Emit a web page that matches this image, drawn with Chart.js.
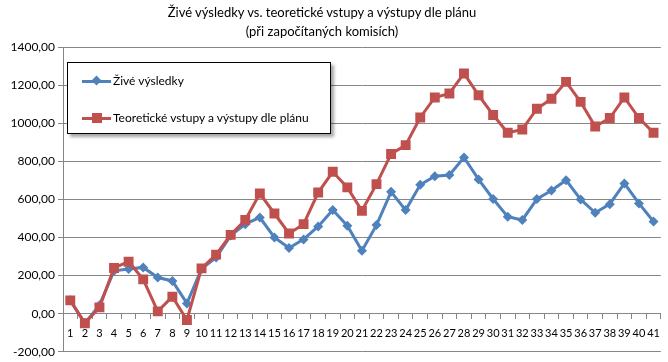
<!DOCTYPE html>
<html lang="cs">
<head>
    <meta charset="UTF-8">
    <title>Živé výsledky vs. teoretické vstupy</title>
    <script src="https://cdn.jsdelivr.net/npm/chart.js"></script>
    <style>
        html, body { margin: 0; padding: 0; background: #fff; }
        #wrap { position: relative; width: 668px; height: 362px; font-family: Lato, sans-serif; }
        #title { position: absolute; left: 0; width: 644px; top: 3px; text-align: center; font-size: 13px; line-height: 19px; color: #000; }
        #legend { position: absolute; left: 67px; top: 62px; width: 262px; height: 70px; border: 1px solid #000; background: #fff;
                  box-shadow: 3px 3px 3px rgba(0,0,0,0.35); font-size: 12px; color: #000; z-index: 2; }
        .item { position: absolute; left: 14px; height: 14px; }
        .line { position: absolute; left: 0; top: 6px; width: 29px; height: 3px; }
        .mark { position: absolute; }
        .label { position: absolute; left: 31px; top: -1px; white-space: nowrap; }
    </style>
</head>
<body>
<div id="wrap">
    <canvas id="chart" width="668" height="362"></canvas>
    <div id="title">Živé výsledky vs. teoretické vstupy a výstupy dle plánu<br>(při započítaných komisích)</div>
    <div id="legend"></div>
</div>
<script>
    // data
    const categories = Array.from({length: 41}, (_, i) => String(i + 1));
    const liveName = 'Živé výsledky';
    const planName = 'Teoretické vstupy a výstupy dle plánu';
    const liveValues = [70, -50, 45, 225, 235, 243, 190, 172, 54, 235,
                        295, 410, 470, 505, 400, 345, 390, 458, 544, 462,
                        330, 465, 640, 544, 677, 722, 728, 820, 705, 602,
                        509, 492, 602, 647, 701, 600, 530, 575, 684, 579, 484];
    const planValues = [70, -50, 33, 240, 273, 180, 12, 89, -33, 238,
                        310, 414, 492, 631, 526, 421, 470, 636, 745, 663,
                        540, 680, 838, 885, 1030, 1135, 1156, 1261, 1147, 1043,
                        950, 967, 1076, 1128, 1217, 1112, 983, 1027, 1135, 1027, 950];

    const blue = '#4F81BD';
    const red = '#C0504D';
    const gridColor = '#868686';

    Chart.defaults.color = '#000';
    Chart.defaults.font.family = 'Lato, sans-serif';

    const chart = new Chart(document.getElementById('chart'), {
        type: 'line',
        data: {
            labels: categories,
            datasets: [{
                label: liveName,
                data: liveValues,
                borderColor: blue,
                backgroundColor: blue,
                borderWidth: 3,
                pointStyle: 'rectRot',
                pointRadius: 5,
                pointBorderWidth: 0,
                tension: 0,
                order: 1
            }, {
                label: planName,
                data: planValues,
                borderColor: red,
                backgroundColor: red,
                borderWidth: 3,
                pointStyle: 'rect',
                pointRadius: 7,
                pointBorderWidth: 0,
                tension: 0,
                order: 0
            }]
        },
        options: {
            responsive: false,
            animation: false,
            events: [],
            layout: { padding: { top: 47, bottom: 10, right: 4, left: 0 } },
            plugins: { legend: { display: false }, tooltip: { enabled: false } },
            scales: {
                x: {
                    position: { y: 0 },
                    offset: true,
                    grid: { drawOnChartArea: false, drawTicks: true, tickLength: 5, offset: true, color: gridColor },
                    border: { color: gridColor },
                    ticks: { autoSkip: false, maxRotation: 0, padding: 8, font: { size: 11 } }
                },
                y: {
                    min: -200,
                    max: 1400,
                    grid: { color: gridColor, tickLength: 5 },
                    border: { color: gridColor },
                    ticks: {
                        stepSize: 200,
                        padding: 3,
                        font: { size: 12 },
                        callback: v => v.toFixed(2).replace('.', ',')
                    },
                    afterFit: s => { s.width = 63; }
                }
            }
        }
    });

    // legend built from the datasets
    const legend = document.getElementById('legend');
    chart.data.datasets.forEach((ds, i) => {
        const item = document.createElement('div');
        item.className = 'item';
        item.style.top = (i === 0 ? 11 : 48) + 'px';
        const line = document.createElement('div');
        line.className = 'line';
        line.style.background = ds.borderColor;
        const mark = document.createElement('div');
        mark.className = 'mark';
        mark.style.background = ds.borderColor;
        if (ds.pointStyle === 'rectRot') {
            Object.assign(mark.style, { left: '11px', top: '3px', width: '7px', height: '7px', transform: 'rotate(45deg)' });
        } else {
            Object.assign(mark.style, { left: '10px', top: '2px', width: '10px', height: '10px' });
        }
        const label = document.createElement('div');
        label.className = 'label';
        label.textContent = ds.label;
        item.append(line, mark, label);
        legend.appendChild(item);
    });
</script>
</body>
</html>
